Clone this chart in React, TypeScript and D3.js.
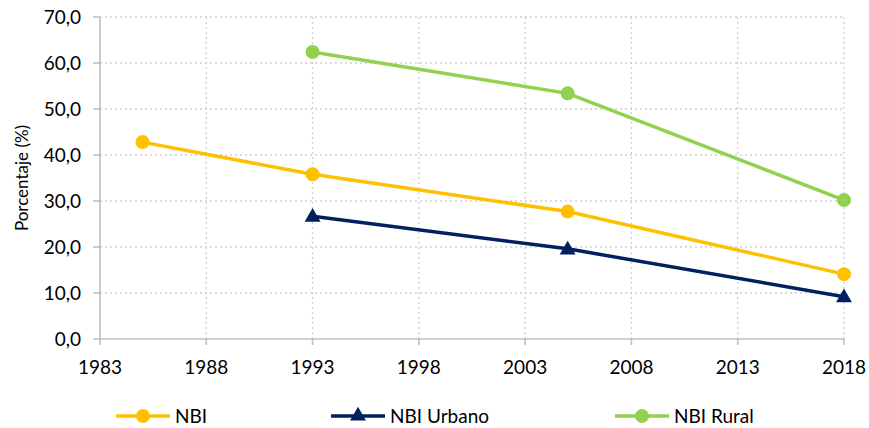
import React from "react";
import * as d3 from "d3";

const years = [1985, 1993, 2005, 2018];
const nbi = [42.8, 35.8, 27.7, 14.1];
const urbanoYears = [1993, 2005, 2018];
const urbano = [26.7, 19.6, 9.2];
const ruralYears = [1993, 2005, 2018];
const rural = [62.4, 53.4, 30.2];
const xTicks = [1983, 1988, 1993, 1998, 2003, 2008, 2013, 2018];
const yTicks = [0, 10, 20, 30, 40, 50, 60, 70];

const W = 869, H = 428;
const FONT = "Lato, 'Open Sans', sans-serif";
const FS = 19;

export default function App() {
  const x = d3.scaleLinear().domain([1983, 2018]).range([100, 844]);
  const y = d3.scaleLinear().domain([0, 70]).range([339, 17]);
  const fmt = (v: number) => v.toFixed(1).replace(".", ",");
  const line = d3.line<[number, number]>().x(d => x(d[0])).y(d => y(d[1]));

  const series = [
    { name: "NBI", xs: years, ys: nbi, color: "#FFC000", marker: "circle" },
    { name: "NBI Urbano", xs: urbanoYears, ys: urbano, color: "#002060", marker: "triangle" },
    { name: "NBI Rural", xs: ruralYears, ys: rural, color: "#92D050", marker: "circle" },
  ];
  const legendX = [116, 331, 615];
  const tri = d3.symbol().type(d3.symbolTriangle).size(110)() as string;
  const circ = 7;

  const marker = (s: any, cx: number, cy: number, key: any) =>
    s.marker === "circle" ? (
      <circle key={key} cx={cx} cy={cy} r={circ} fill={s.color} />
    ) : (
      <path key={key} d={tri} transform={`translate(${cx},${cy})`} fill={s.color} />
    );

  return (
    <svg width={W} height={H} style={{ position: "absolute", left: 0, top: 0, background: "#fff" }}>
      {yTicks.filter(t => t > 0).map(t => (
        <line key={"gy" + t} x1={100} x2={844} y1={y(t)} y2={y(t)} stroke="#d0d0d0" strokeWidth={1.3} strokeDasharray="2,3" />
      ))}
      {xTicks.filter(t => t > 1983).map(t => (
        <line key={"gx" + t} x1={x(t)} x2={x(t)} y1={y(70)} y2={y(0)} stroke="#d0d0d0" strokeWidth={1.3} strokeDasharray="2,3" />
      ))}
      <line x1={100} x2={100} y1={y(70)} y2={y(0)} stroke="#bfbfbf" strokeWidth={1.6} />
      <line x1={100} x2={844} y1={y(0)} y2={y(0)} stroke="#bfbfbf" strokeWidth={1.6} />
      {yTicks.map(t => (
        <g key={"yt" + t}>
          <line x1={93} x2={100} y1={y(t)} y2={y(t)} stroke="#bfbfbf" strokeWidth={1.6} />
          <text x={81} y={y(t)} dy="0.35em" textAnchor="end" fontFamily={FONT} fontSize={FS} fill="#000">{fmt(t)}</text>
        </g>
      ))}
      {xTicks.map(t => (
        <g key={"xt" + t}>
          <line x1={x(t)} x2={x(t)} y1={y(0)} y2={y(0) + 6} stroke="#bfbfbf" strokeWidth={1.6} />
          <text x={x(t)} y={374} textAnchor="middle" fontFamily={FONT} fontSize={FS} fill="#000">{t}</text>
        </g>
      ))}
      <text transform={`translate(28,${(y(0) + y(70)) / 2}) rotate(-90)`} textAnchor="middle" fontFamily={FONT} fontSize={17} fill="#000">Porcentaje (%)</text>
      {series.map(s => {
        const pts = s.xs.map((xv, i) => [xv, s.ys[i]] as [number, number]);
        return (
          <g key={s.name}>
            <path d={line(pts) as string} fill="none" stroke={s.color} strokeWidth={3.5} />
            {pts.map((p, i) => marker(s, x(p[0]), y(p[1]) + (s.marker === "triangle" ? 1 : 0), i))}
          </g>
        );
      })}
      {series.map((s, i) => (
        <g key={"lg" + s.name}>
          <line x1={legendX[i]} x2={legendX[i] + 54} y1={416} y2={416} stroke={s.color} strokeWidth={3.5} />
          {marker(s, legendX[i] + 27, 416, "m")}
          <text x={legendX[i] + 59} y={416} dy="0.35em" fontFamily={FONT} fontSize={FS} fill="#000">{s.name}</text>
        </g>
      ))}
    </svg>
  );
}
